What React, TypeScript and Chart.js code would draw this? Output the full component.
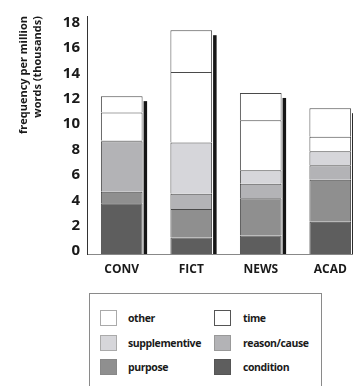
import React, { useEffect, useRef } from "react";
import { Chart, registerables } from "chart.js";

Chart.register(...registerables);

const categories = ["CONV", "FICT", "NEWS", "ACAD"];
const condition = [4.0, 1.3, 1.45, 2.55];
const purpose = [0.9, 2.25, 2.95, 3.3];
const reasonCause = [4.0, 1.2, 1.15, 1.15];
const supplementive = [0.05, 4.05, 1.05, 1.1];
const time = [2.2, 5.55, 3.95, 1.15];
const other = [1.3, 3.3, 2.15, 2.25];
const yTickValues = [0, 2, 4, 6, 8, 10, 12, 14, 16, 18];
const yTitle = ["frequency per million", "words (thousands)"];

const seriesNames = ["condition", "purpose", "reason/cause", "supplementive", "time", "other"];
const seriesValues = [condition, purpose, reasonCause, supplementive, time, other];
const seriesColors = ["#5e5e5e", "#8f8f8f", "#b3b3b6", "#d6d6da", "#ffffff", "#ffffff"];
const swatchBorders = ["#555", "#888", "#999", "#aaa", "#555", "#aaa"];
const legendOrder = ["other", "time", "supplementive", "reason/cause", "purpose", "condition"];

const FONT = "'Open Sans', 'DejaVu Sans', sans-serif";

const shadowPlugin = {
  id: "barShadow",
  afterDatasetsDraw(chart: any) {
    const ctx = chart.ctx;
    const zeroY = chart.scales.y.getPixelForValue(0);
    const meta = chart.getDatasetMeta(chart.data.datasets.length - 1);
    ctx.save();
    ctx.fillStyle = "#151515";
    meta.data.forEach((bar: any) => {
      const p = bar.getProps(["x", "y", "width"], true);
      ctx.fillRect(p.x + p.width / 2 + 1, p.y + 5, 3.5, zeroY - p.y - 5);
    });
    ctx.restore();
  },
};

export default function App() {
  const ref = useRef<HTMLCanvasElement | null>(null);

  useEffect(() => {
    if (!ref.current) return;
    const chart = new Chart(ref.current, {
      type: "bar",
      data: {
        labels: categories,
        datasets: seriesNames.map((name, i) => ({
          label: name,
          data: seriesValues[i],
          backgroundColor: seriesColors[i],
          borderColor: "#4a4a4a",
          borderWidth: { top: 1, left: 1, right: 1, bottom: 0 },
          borderSkipped: false,
          barPercentage: 0.6,
          categoryPercentage: 1.0,
        })),
      },
      options: {
        responsive: false,
        animation: false,
        layout: { padding: { top: 10, left: 0, right: 0, bottom: 0 } },
        plugins: { legend: { display: false }, tooltip: { enabled: false } },
        scales: {
          x: {
            stacked: true,
            grid: { display: false, drawTicks: false },
            border: { display: true, color: "#888", width: 1 },
            ticks: {
              color: "#1a1a1a",
              padding: 8,
              font: { family: FONT, size: 12, weight: "bold" },
            },
            afterFit: (scale: any) => {
              scale.height = 30;
            },
          },
          y: {
            stacked: true,
            min: 0,
            max: 18.77,
            grid: { display: false, drawTicks: false },
            border: { display: true, color: "#333", width: 1 },
            afterBuildTicks: (axis: any) => {
              axis.ticks = yTickValues.map((v) => ({ value: v }));
            },
            ticks: {
              color: "#1a1a1a",
              padding: 7,
              labelOffset: -3,
              font: { family: FONT, size: 15, weight: "bold" },
            },
            title: {
              display: true,
              text: yTitle,
              align: "end",
              color: "#1a1a1a",
              padding: { top: 16, bottom: 0 },
              font: { family: FONT, size: 11, weight: "bold", lineHeight: 1.35 },
            },
            afterFit: (scale: any) => {
              scale.width = 87;
            },
          },
        },
      },
      plugins: [shadowPlugin],
    } as any);
    return () => chart.destroy();
  }, []);

  const rowCenters = [23.7, 48.7, 73];
  const swatchLeft = [10, 124];
  const textLeft = [38, 153];

  return (
    <div
      style={{
        position: "absolute",
        left: 0,
        top: 0,
        width: 353,
        height: 386,
        overflow: "hidden",
        background: "#fff",
      }}
    >
      <canvas ref={ref} width={365} height={284} style={{ position: "absolute", left: 0, top: 0 }} />
      <div
        style={{
          position: "absolute",
          left: 89,
          top: 293,
          width: 231,
          height: 110,
          border: "1px solid #8a8a8a",
          fontFamily: FONT,
          fontSize: 10.5,
          fontWeight: 700,
          color: "#1a1a1a",
        }}
      >
        {legendOrder.map((name, k) => {
          const i = seriesNames.indexOf(name);
          const row = Math.floor(k / 2);
          const col = k % 2;
          return (
            <React.Fragment key={name}>
              <div
                style={{
                  position: "absolute",
                  left: swatchLeft[col],
                  top: rowCenters[row] - 8,
                  width: 15,
                  height: 14,
                  background: seriesColors[i],
                  border: `1px solid ${swatchBorders[i]}`,
                }}
              />
              <div
                style={{
                  position: "absolute",
                  left: textLeft[col],
                  top: rowCenters[row] - 8,
                  lineHeight: "16px",
                  whiteSpace: "nowrap",
                  letterSpacing: "-0.4px",
                }}
              >
                {name}
              </div>
            </React.Fragment>
          );
        })}
      </div>
    </div>
  );
}
